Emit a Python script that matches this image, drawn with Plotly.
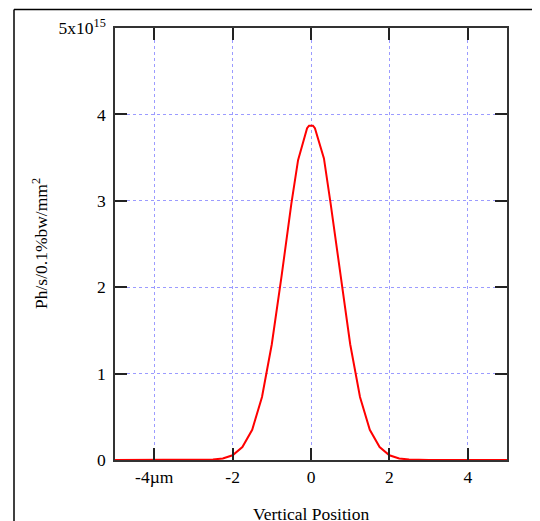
import plotly.graph_objects as go

# Data
x_pos = [-5.0, -3.0, -2.5, -2.25, -2.0, -1.75, -1.5, -1.25, -1.0, -0.75, -0.5, -0.33,
         -0.1, -0.05, 0.05, 0.1, 0.33, 0.5, 0.75, 1.0, 1.25, 1.5, 1.75, 2.0, 2.25, 2.5,
         3.0, 5.0]
flux = [0.0, 0.0, 0.005, 0.018, 0.055, 0.15, 0.35, 0.73, 1.34, 2.13, 2.97, 3.47,
        3.84, 3.87, 3.87, 3.84, 3.49, 2.97, 2.13, 1.34, 0.73, 0.35, 0.15, 0.055, 0.018, 0.005,
        0.0, 0.0]
flux = [v * 1e15 for v in flux]

x_ticks = [-4, -2, 0, 2, 4]
x_ticktext = ["-4\u00b5m", "-2", "0", "2", "4"]
y_ticks = [0, 1e15, 2e15, 3e15, 4e15, 5e15]
y_ticktext = ["0", "1", "2", "3", "4", "5x10<sup>15</sup>"]
x_title = "Vertical Position"
y_title = "Ph/s/0.1%bw/mm<sup>2</sup>"

FONT = "Liberation Serif"
FS = 17.5
grid_col = "rgb(155,155,255)"

fig = go.Figure()
fig.add_trace(go.Scatter(x=x_pos, y=flux, mode="lines",
                         line=dict(color="rgb(255,0,0)", width=2),
                         showlegend=False, hoverinfo="skip"))

axis_common = dict(
    showline=True, linecolor="#333333", linewidth=1.5, mirror="ticks",
    ticks="inside", ticklen=12, tickwidth=1.5, tickcolor="#222222",
    showgrid=True, gridcolor=grid_col, griddash="dot", gridwidth=1,
    zeroline=False, tickfont=dict(family=FONT, size=FS, color="black"),
    automargin=False,
)

fig.update_xaxes(range=[-5, 5], tickvals=x_ticks, ticktext=x_ticktext,
                 ticklabelstandoff=0, **axis_common)
fig.update_yaxes(range=[0, 5e15], tickvals=y_ticks, ticktext=y_ticktext,
                 ticklabelstandoff=4, **axis_common)

# page has an 8px body offset; lay out in screen pixels minus that offset
OFF = 8
W, H = 540, 521
L, T = 115 - OFF, 28 - OFF
R = W - (507 - OFF)
B = H - (460 - OFF)
pw, ph = W - L - R, H - T - B

def px(xp):
    return (xp - OFF - L) / pw

def py(yp):
    return 1 - (yp - OFF - T) / ph

fig.add_annotation(text=x_title, xref="paper", yref="paper", x=px(311), y=py(514),
                   showarrow=False, font=dict(family=FONT, size=FS, color="black"),
                   xanchor="center", yanchor="middle")
fig.add_annotation(text=y_title, xref="paper", yref="paper", x=px(40), y=py(244),
                   showarrow=False, textangle=-90, font=dict(family=FONT, size=FS, color="black"),
                   xanchor="center", yanchor="middle")

# outer frame lines (left and top)
fx = px(14)
fy = py(9.5)
fig.add_shape(type="line", xref="paper", yref="paper", x0=fx, x1=fx, y0=fy, y1=-0.5,
              line=dict(color="black", width=1.5))
fig.add_shape(type="line", xref="paper", yref="paper", x0=fx, x1=1.5, y0=fy, y1=fy,
              line=dict(color="black", width=1.5))

fig.update_layout(
    width=W, height=H,
    margin=dict(l=L, r=R, t=T, b=B),
    paper_bgcolor="white", plot_bgcolor="white",
    font=dict(family=FONT, color="black"),
)

fig.write_html("out.html")
